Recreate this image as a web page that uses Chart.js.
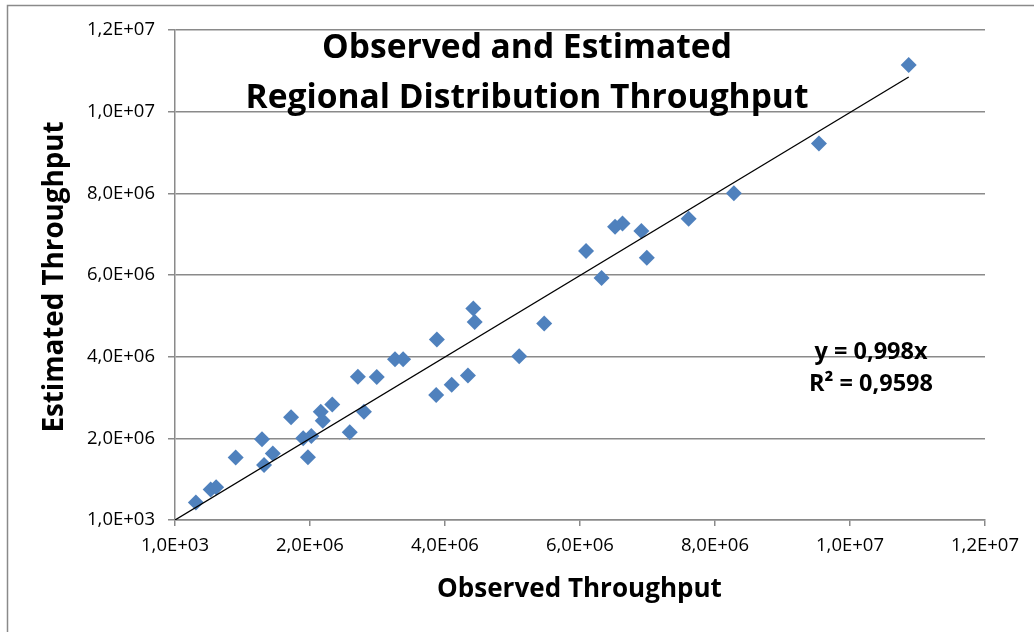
<!DOCTYPE html>
<html>
<head>
<meta charset="utf-8">
<script src="https://cdn.jsdelivr.net/npm/chart.js@4/dist/chart.umd.min.js"></script>
<style>
  html, body { margin: 0; padding: 0; background: #fff; }
  #wrap { position: relative; width: 1034px; height: 632px; }
</style>
</head>
<body>
<div id="wrap"><canvas id="c" width="1034" height="632"></canvas></div>
<script>
// ---- data ----
const observed = [0.31e6, 0.53e6, 0.61e6, 0.90e6, 1.29e6, 1.32e6, 1.45e6, 1.72e6, 1.90e6, 1.97e6,
  2.02e6, 2.16e6, 2.19e6, 2.33e6, 2.59e6, 2.71e6, 2.80e6, 2.99e6, 3.26e6, 3.38e6,
  3.88e6, 3.87e6, 4.10e6, 4.34e6, 4.42e6, 4.44e6, 5.10e6, 5.47e6, 6.09e6, 6.32e6,
  6.52e6, 6.63e6, 6.91e6, 6.99e6, 7.61e6, 8.28e6, 9.54e6, 10.87e6];
const estimated = [0.43e6, 0.75e6, 0.80e6, 1.53e6, 1.98e6, 1.35e6, 1.63e6, 2.52e6, 2.00e6, 1.54e6,
  2.06e6, 2.65e6, 2.43e6, 2.83e6, 2.15e6, 3.51e6, 2.65e6, 3.50e6, 3.94e6, 3.94e6,
  4.42e6, 3.06e6, 3.31e6, 3.54e6, 5.18e6, 4.85e6, 4.01e6, 4.81e6, 6.59e6, 5.93e6,
  7.18e6, 7.26e6, 7.08e6, 6.42e6, 7.38e6, 8.00e6, 9.22e6, 11.14e6];
const trendSlope = 0.998;
const rSquared = '0,9598';
const tickValues = [1000, 2e6, 4e6, 6e6, 8e6, 10e6, 12e6];
const tickLabels = ['1,0E+03', '2,0E+06', '4,0E+06', '6,0E+06', '8,0E+06', '1,0E+07', '1,2E+07'];
const chartTitle = ['Observed and Estimated', 'Regional Distribution Throughput'];
const xTitle = 'Observed Throughput';
const yTitle = 'Estimated Throughput';
const equationLines = ['y = 0,998x', 'R\u00B2 = ' + rSquared];

const points = observed.map((x, i) => ({ x: x, y: estimated[i] }));
const maxObs = Math.max(...observed);
const trend = [{ x: 0, y: 0 }, { x: maxObs, y: trendSlope * maxObs }];

const FONT = '"Open Sans", Lato, sans-serif';
const gridColor = '#8a8a8a';

// choose a font size so a text reaches a given width
function fitFont(ctx, text, weight, width) {
  ctx.font = weight + ' 100px ' + FONT;
  const w = ctx.measureText(text).width;
  const size = 100 * width / w;
  ctx.font = weight + ' ' + size.toFixed(2) + 'px ' + FONT;
  return size;
}

const overlay = {
  id: 'overlay',
  beforeDraw(chart) {
    const ctx = chart.ctx;
    ctx.save();
    ctx.fillStyle = '#fff';
    ctx.fillRect(0, 0, chart.width, chart.height);
    ctx.strokeStyle = '#8a8a8a';
    ctx.lineWidth = 1.5;
    ctx.strokeRect(7.5, 5.5, chart.width + 20, chart.height + 20);
    ctx.restore();
  },
  afterDraw(chart) {
    const ctx = chart.ctx;
    const a = chart.chartArea;
    ctx.save();
    ctx.fillStyle = '#000';
    ctx.textAlign = 'center';
    ctx.textBaseline = 'middle';
    fitFont(ctx, chartTitle[1], 'bold', 563);
    ctx.fillText(chartTitle[0], 527, 48);
    ctx.fillText(chartTitle[1], 527, 98);
    fitFont(ctx, equationLines[1], 'bold', 124);
    ctx.fillText(equationLines[0], 871, 352);
    ctx.fillText(equationLines[1], 871, 384);
    // axis titles
    fitFont(ctx, xTitle, 'bold', 285);
    ctx.fillText(xTitle, 579.5, 590);
    fitFont(ctx, yTitle, 'bold', 311);
    ctx.translate(55, 277);
    ctx.rotate(-Math.PI / 2);
    ctx.fillText(yTitle, 0, 0);
    ctx.restore();
  }
};

new Chart(document.getElementById('c'), {
  type: 'scatter',
  data: {
    datasets: [
      {
        label: 'Estimated',
        data: points,
        pointStyle: 'rectRot',
        pointRadius: 8,
        pointHoverRadius: 8,
        backgroundColor: '#4F81BD',
        borderColor: '#4F81BD',
        borderWidth: 0,
        order: 2
      },
      {
        type: 'line',
        label: 'Trend',
        data: trend,
        borderColor: '#000',
        borderWidth: 1.3,
        pointRadius: 0,
        fill: false,
        order: 1
      }
    ]
  },
  options: {
    responsive: false,
    animation: false,
    devicePixelRatio: 1,
    layout: { padding: { left: 0, top: 30, right: 49, bottom: 0 } },
    plugins: {
      legend: { display: false },
      title: { display: false },
      tooltip: { enabled: false }
    },
    scales: {
      x: {
        type: 'linear',
        min: 1000,
        max: 12e6,
        afterBuildTicks(s) { s.ticks = tickValues.map(v => ({ value: v })); },
        afterFit(s) { s.height = 112; },
        grid: { drawOnChartArea: false, color: gridColor, lineWidth: 1.5, tickLength: 6 },
        border: { color: gridColor, width: 1.5 },
        ticks: {
          font: { family: FONT, size: 18.5 },
          color: '#000',
          padding: 9,
          maxRotation: 0,
          callback(v, i) { return tickLabels[i]; }
        }
      },
      y: {
        type: 'linear',
        min: 1000,
        max: 12e6,
        afterBuildTicks(s) { s.ticks = tickValues.map(v => ({ value: v })); },
        afterFit(s) { s.width = 175; },
        grid: { color: gridColor, lineWidth: 1.5, tickLength: 7 },
        border: { color: gridColor, width: 1.5 },
        ticks: {
          font: { family: FONT, size: 18.5 },
          color: '#000',
          padding: 13,
          callback(v, i) { return tickLabels[i]; }
        }
      }
    }
  },
  plugins: [overlay]
});
</script>
</body>
</html>
